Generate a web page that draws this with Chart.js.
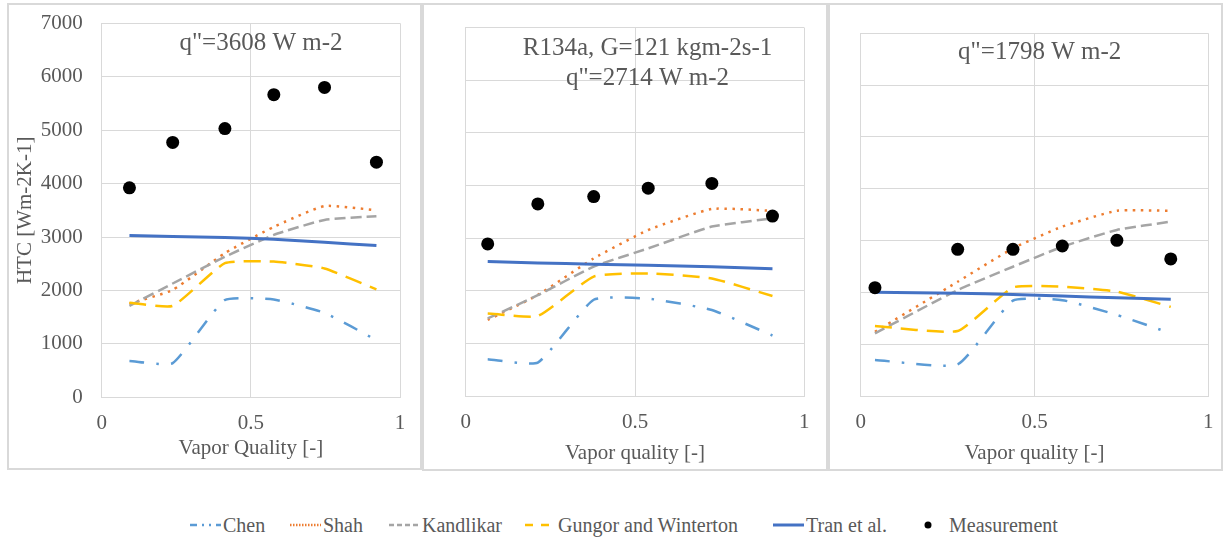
<!DOCTYPE html>
<html>
<head>
<meta charset="utf-8">
<script src="https://cdn.jsdelivr.net/npm/chart.js@4.4.0/dist/chart.umd.min.js"></script>
<style>
body { margin:0; width:1223px; height:537px; background:#fff; position:relative; overflow:hidden;
       font-family:"Liberation Serif","Times New Roman",serif; color:#595959; }
.panel { position:absolute; border:2px solid #d9d9d9; box-sizing:border-box; }
.cv { position:absolute; }
#legend { position:absolute; left:0; top:513px; height:24px; width:1223px; font-size:20px; white-space:nowrap; }
.item { position:absolute; top:0; height:24px; display:flex; align-items:center; }
.item canvas { margin-right:2px; }
</style>
</head>
<body>
<div class="panel" style="left:7px;top:3px;width:415px;height:467px"></div>
<div class="panel" style="left:422px;top:3px;width:406px;height:468px"></div>
<div class="panel" style="left:828px;top:3px;width:395px;height:468px"></div>
<canvas id="c1" class="cv" width="411" height="462" style="left:9px;top:5px"></canvas>
<canvas id="c2" class="cv" width="401" height="464" style="left:425px;top:5px"></canvas>
<canvas id="c3" class="cv" width="390" height="464" style="left:830px;top:5px"></canvas>
<div id="legend"></div>
<script>
// ---- data ----
const yTickMax = 7000
const yTickStep = 1000
const xTickStep = 0.5

// panel 1, q"=3608 W m-2
const quality1 = [0.093, 0.238, 0.413, 0.577, 0.747, 0.921]
const meas1 = [3920, 4770, 5030, 5665, 5800, 4400]
const chen1 = [680, 640, 1820, 1830, 1580, 1070]
const shah1 = [1750, 2010, 2700, 3190, 3580, 3500]
const kand1 = [1710, 2130, 2630, 3040, 3320, 3390]
const gung1 = [1770, 1710, 2510, 2540, 2410, 2020]
const tran1 = [3030, 3010, 2990, 2960, 2900, 2840]

// panel 2, q"=2714 W m-2
const quality2 = [0.065, 0.213, 0.378, 0.539, 0.727, 0.906]
const meas2 = [2890, 3650, 3790, 3950, 4040, 3420]
const chen2 = [700, 635, 1830, 1850, 1635, 1150]
const shah2 = [1445, 1920, 2615, 3155, 3555, 3520]
const kand2 = [1475, 1915, 2460, 2805, 3220, 3375]
const gung2 = [1570, 1520, 2270, 2330, 2235, 1900]
const tran2 = [2555, 2530, 2505, 2485, 2455, 2420]

// panel 3, q"=1798 W m-2
const quality3 = [0.041, 0.279, 0.438, 0.580, 0.737, 0.892]
const meas3 = [2090, 2830, 2830, 2895, 3005, 2645]
const chen3 = [695, 610, 1840, 1850, 1565, 1210]
const shah3 = [1240, 2205, 2850, 3270, 3575, 3575]
const kand3 = [1210, 2045, 2495, 2880, 3205, 3365]
const gung3 = [1350, 1255, 2095, 2110, 2015, 1720]
const tran3 = [2000, 1985, 1960, 1930, 1895, 1865]

const seriesNames = ['Chen', 'Shah', 'Kandlikar', 'Gungor and Winterton', 'Tran et al.', 'Measurement']

// ---- styles ----
const textColor = '#595959'
const gridColor = '#d9d9d9'
const fontFamily = '"Liberation Serif", "Times New Roman", serif'

const styles = {
    'Chen': { color: '#5B9BD5', dash: [15, 12, 2.5, 12], legendDash: [7, 5, 2, 5, 2, 5] },
    'Shah': { color: '#ED7D31', dash: [2.5, 5.5], legendDash: [1.5, 1.5] },
    'Kandlikar': { color: '#A5A5A5', dash: [11, 5], legendDash: [5, 3] },
    'Gungor and Winterton': { color: '#FFC000', dash: [17, 9], legendDash: [8, 8] },
    'Tran et al.': { color: '#4472C4', dash: [], legendDash: [] },
    'Measurement': { color: '#000000' }
}
// left edge of each legend item (symbol start)
const legendLefts = [190, 290, 389, 525, 773, 913]

Chart.defaults.font.family = fontFamily
Chart.defaults.color = textColor

const toPoints = (xs, ys) => xs.map((x, i) => ({ x: x, y: ys[i] }))

const makeDatasets = (xs, values) => {
    // measurement first so it is painted on top
    const sets = [{
        label: 'Measurement',
        data: toPoints(xs, values[5]),
        showLine: false,
        pointRadius: 6.5,
        pointBackgroundColor: '#000',
        pointBorderWidth: 0
    }]
    for (let i = 4; i >= 0; i--) {
        const st = styles[seriesNames[i]]
        sets.push({
            label: seriesNames[i],
            data: toPoints(xs, values[i]),
            borderColor: st.color,
            borderWidth: i == 4 ? 3 : 2.5,
            borderDash: st.dash,
            borderCapStyle: 'butt',
            pointRadius: 0,
            tension: 0.15,
            fill: false
        })
    }
    return sets
}

const panelTitle = {
    id: 'panelTitle',
    afterDatasetsDraw: (chart, args, options) => {
        const { ctx } = chart
        ctx.save()
        ctx.font = '25px ' + fontFamily
        ctx.fillStyle = textColor
        ctx.textAlign = 'center'
        ctx.textBaseline = 'middle'
        options.lines.forEach((line, i) => {
            ctx.fillText(line, options.x, options.y + i * 30)
        })
        ctx.restore()
    }
}

const noPad = (scale) => {
    scale.paddingTop = 0
    scale.paddingBottom = 0
    scale.paddingLeft = 0
    scale.paddingRight = 0
}

const makeChart = (id, xs, values, p) => {
    new Chart(document.getElementById(id), {
        type: 'line',
        data: { datasets: makeDatasets(xs, values) },
        plugins: [panelTitle],
        options: {
            responsive: false,
            animation: false,
            devicePixelRatio: 1,
            layout: { padding: { left: 0, top: p.top, right: p.right, bottom: 0 } },
            plugins: {
                legend: { display: false },
                tooltip: { enabled: false },
                panelTitle: { lines: p.title, x: p.tx, y: p.ty }
            },
            scales: {
                x: {
                    type: 'linear', min: 0, max: 1,
                    afterFit: (scale) => { scale.height = p.bottom; noPad(scale) },
                    ticks: { stepSize: xTickStep, padding: 14, font: { size: 21 }, color: textColor,
                             callback: (v) => String(v) },
                    grid: { color: gridColor, drawTicks: false },
                    border: { color: gridColor },
                    title: { display: true, text: p.xTitle, font: { size: 21 }, color: textColor, padding: { top: 0, bottom: p.xTitlePad } }
                },
                y: {
                    min: 0, max: yTickMax,
                    afterFit: (scale) => { scale.width = p.left; noPad(scale) },
                    ticks: { stepSize: yTickStep, display: p.yLabels, padding: 19, font: { size: 21 }, color: textColor,
                             callback: (v) => String(v) },
                    grid: { color: gridColor, drawTicks: false },
                    border: { color: gridColor },
                    title: { display: p.yLabels, text: 'HTC [Wm-2K-1]', font: { size: 21 }, color: textColor, padding: { top: 3.4, bottom: 0 } }
                }
            }
        }
    })
}

makeChart('c1', quality1, [chen1, shah1, kand1, gung1, tran1, meas1], {
    left: 92.7, top: 18.3, right: 20, bottom: 69.7, xTitlePad: 6.4, yLabels: true,
    xTitle: 'Vapor Quality [-]', title: ['q"=3608 W m-2'], tx: 252, ty: 38
})
makeChart('c2', quality2, [chen2, shah2, kand2, gung2, tran2, meas2], {
    left: 40.7, top: 22.7, right: 21.7, bottom: 73, xTitlePad: 3.4, yLabels: false,
    xTitle: 'Vapor quality [-]', title: ['R134a, G=121 kgm-2s-1', 'q"=2714 W m-2'], tx: 222.5, ty: 43
})
makeChart('c3', quality3, [chen3, shah3, kand3, gung3, tran3, meas3], {
    left: 30.7, top: 28.3, right: 11.7, bottom: 73, xTitlePad: 3.4, yLabels: false,
    xTitle: 'Vapor quality [-]', title: ['q"=1798 W m-2'], tx: 209.7, ty: 47
})

// ---- shared legend ----
const legend = document.getElementById('legend')
seriesNames.forEach((name, i) => {
    const st = styles[name]
    const item = document.createElement('div')
    item.className = 'item'
    item.style.left = legendLefts[i] + 'px'
    const sym = document.createElement('canvas')
    sym.width = 31
    sym.height = 12
    const g = sym.getContext('2d')
    if (name == 'Measurement') {
        g.fillStyle = st.color
        g.beginPath()
        g.arc(15, 6, 3.5, 0, Math.PI * 2)
        g.fill()
    } else {
        g.strokeStyle = st.color
        g.lineWidth = name == 'Tran et al.' ? 3 : 2.5
        g.setLineDash(st.legendDash)
        g.beginPath()
        g.moveTo(0, 6)
        g.lineTo(31, 6)
        g.stroke()
    }
    const label = document.createElement('span')
    label.innerText = name
    if (name == 'Measurement') label.style.marginLeft = '3px'
    item.appendChild(sym)
    item.appendChild(label)
    legend.appendChild(item)
})
</script>
</body>
</html>
